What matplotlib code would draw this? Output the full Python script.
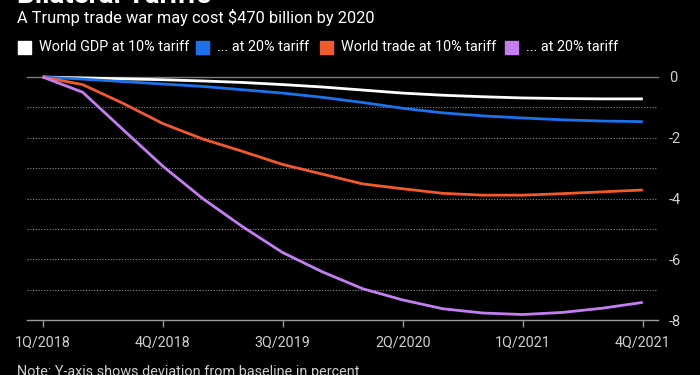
import matplotlib.pyplot as plt
import numpy as np

quarters = ['1Q/2018', '2Q/2018', '3Q/2018', '4Q/2018',
            '1Q/2019', '2Q/2019', '3Q/2019', '4Q/2019',
            '1Q/2020', '2Q/2020', '3Q/2020', '4Q/2020',
            '1Q/2021', '2Q/2021', '3Q/2021', '4Q/2021']

gdp_10 = [0, -0.03, -0.06, -0.09, -0.13, -0.18, -0.25, -0.33,
          -0.43, -0.53, -0.60, -0.65, -0.69, -0.71, -0.72, -0.72]
gdp_20 = [0, -0.07, -0.15, -0.23, -0.31, -0.42, -0.53, -0.67,
          -0.84, -1.03, -1.18, -1.28, -1.35, -1.41, -1.45, -1.47]
trade_10 = [0, -0.25, -0.86, -1.53, -2.04, -2.45, -2.88, -3.20,
            -3.52, -3.68, -3.83, -3.89, -3.89, -3.84, -3.78, -3.72]
trade_20 = [0, -0.50, -1.72, -2.93, -4.00, -4.93, -5.78, -6.42,
            -6.97, -7.34, -7.63, -7.77, -7.82, -7.75, -7.61, -7.42]

labels = ['World GDP at 10% tariff', '... at 20% tariff',
          'World trade at 10% tariff', '... at 20% tariff']
colors = ['#ffffff', '#1a73ec', '#f25a2c', '#c47ef2']
series = [gdp_10, gdp_20, trade_10, trade_20]

plt.rcParams['font.family'] = ['Liberation Sans Narrow', 'Roboto', 'DejaVu Sans']

fig = plt.figure(figsize=(7, 3.75), dpi=100, facecolor='black')
ax = fig.add_axes([27/700, 55/375, 631/700, 243/375], facecolor='black')

x = np.arange(len(quarters))
for vals, c in zip(series, colors):
    ax.plot(x, vals, color=c, lw=2.0, clip_on=False, zorder=3,
            solid_capstyle='butt')

ax.set_xlim(-0.39, 15.38)
ax.set_ylim(-8, 0)

# grid lines
for yv in range(-7, 0):
    ax.axhline(yv, color='#8a8a8a', lw=0.8, ls=(0, (1, 1.5)), zorder=1)
ax.axhline(0, color='#7a7a7a', lw=1.0, zorder=1, clip_on=False)

for s in ['top', 'left', 'right']:
    ax.spines[s].set_visible(False)
ax.spines['bottom'].set_color('#9a9a9a')
ax.spines['bottom'].set_linewidth(1.0)

ax.set_xticks(x[::3])
ax.set_xticklabels(quarters[::3])
ax.tick_params(axis='x', colors='#9a9a9a', length=5, width=1, labelcolor='#d0d0d0',
               labelsize=10.3, pad=6)

ax.yaxis.tick_right()
ax.set_yticks([0, -2, -4, -6, -8])
ax.set_yticklabels(['0', '-2', '-4', '-6', '-8'])
ax.tick_params(axis='y', length=0, labelcolor='#d0d0d0', labelsize=10.5, pad=8)

# titles (title is cut off at the top edge, as in the original)
fig.text(17/700, 1 - 3/375, 'Bilateral Tariffs', color='white', fontsize=20,
         fontweight='bold', va='baseline', ha='left')
fig.text(17/700, 1 - 18/375, 'A Trump trade war may cost $470 billion by 2020',
         color='white', fontsize=11.8, va='center', ha='left')

# legend
leg_x = [18, 196, 320, 505]
for lx, lab, c in zip(leg_x, labels, colors):
    fig.patches.append(plt.Rectangle((lx/700, 1 - 54/375), 13/700, 13/375,
                                     transform=fig.transFigure, color=c))
    fig.text((lx + 21)/700, 1 - 47/375, lab, color='white', fontsize=10.4,
             va='center', ha='left')

fig.text(17/700, 1 - 365/375, 'Note: Y-axis shows deviation from baseline in percent',
         color='#d0d0d0', fontsize=10.4, va='top', ha='left')

fig.savefig('out.png', dpi=100, facecolor='black')
